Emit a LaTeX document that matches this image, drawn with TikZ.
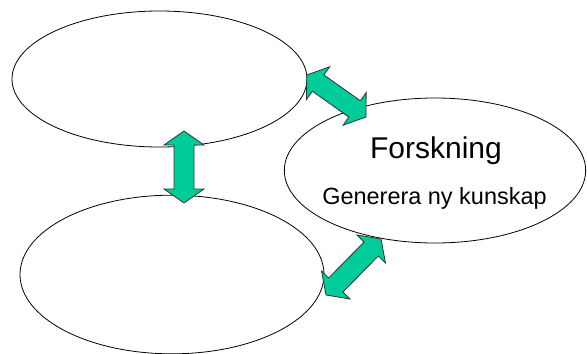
\documentclass[tikz,border=0pt]{standalone}
\usepackage{fontspec}
\setmainfont{Liberation Sans}
\usetikzlibrary{shapes, calc, positioning}
\definecolor{Teal}{RGB}{0,204,153}

\tikzset{
  blob/.style={ellipse, draw=black, line width=0.6pt, inner sep=0pt},
  blockarrow/.style={draw=black!80, fill=Teal, line width=0.6pt, line join=miter}
}
% double block arrow between two named tips
\newcommand{\dblarrow}[2]{
  \coordinate (h1) at ($(#1)!10.5pt!(#2)$);
  \coordinate (h2) at ($(#2)!10.5pt!(#1)$);
  \draw[blockarrow] (#1) -- ($(h1)!15pt!90:(#2)$) -- ($(h1)!7.5pt!90:(#2)$)
    -- ($(h2)!7.5pt!-90:(#1)$) -- ($(h2)!15pt!-90:(#1)$) -- (#2)
    -- ($(h2)!15pt!90:(#1)$) -- ($(h2)!7.5pt!90:(#1)$)
    -- ($(h1)!7.5pt!-90:(#2)$) -- ($(h1)!15pt!-90:(#2)$) -- cycle;
}

\begin{document}
\begin{tikzpicture}[x=0.75pt, y=-0.75pt]
        \useasboundingbox (0,0) rectangle (587,354);
        % ellipses
        \node[blob, minimum width=221.25pt, minimum height=102pt] (upper) at (159.5,79) {};
        \node[blob, minimum width=228pt, minimum height=119pt] (lower) at (172,274.5) {};
        \node[blob, minimum width=226pt, minimum height=108.75pt] (research) at (435,170.5) {};
        \node[anchor=base] (title) at (436,158) {\fontsize{22.5pt}{27pt}\selectfont Forskning};
        \node[anchor=base] (sub) at (434.5,204) {\fontsize{17.6pt}{21pt}\selectfont Generera ny kunskap};
        % arrow tips
        \coordinate (va) at (184,131);
        \coordinate (vb) at (184,203);
        \coordinate (ua) at (306.7,75);
        \coordinate (ub) at (366,117);
        \coordinate (la) at (381,239);
        \coordinate (lb) at (326,295);
        \foreach \a/\b in {va/vb, ua/ub, la/lb}
        {
            \dblarrow{\a}{\b}
        }
    \end{tikzpicture}
\end{document}
